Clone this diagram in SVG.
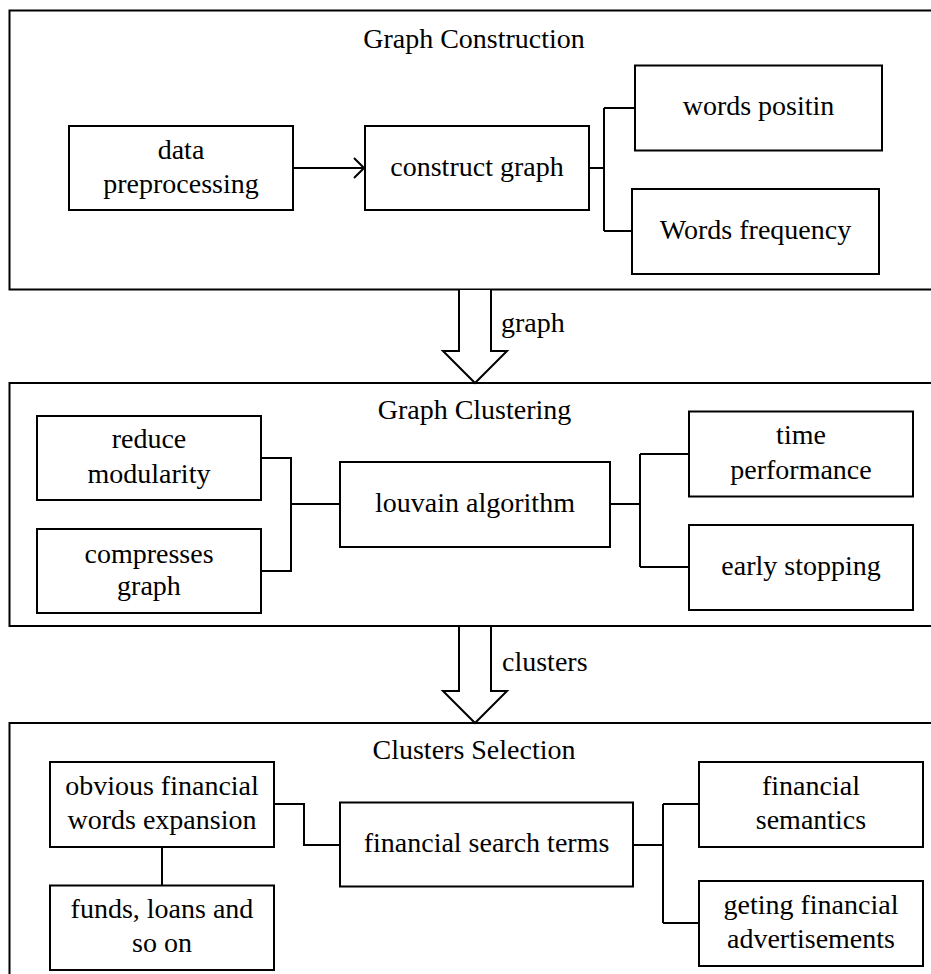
<svg xmlns="http://www.w3.org/2000/svg" width="931" height="974" viewBox="0 0 931 974">
<defs>
<style>
.panel{fill:#fff;stroke:#000;stroke-width:2}
.box{fill:#fff;stroke:#000;stroke-width:2}
.conn{fill:none;stroke:#000;stroke-width:2}
.blk{fill:#fff;stroke:#000;stroke-width:2;stroke-linejoin:miter}
text{font-family:'Liberation Serif','DejaVu Serif',serif;font-size:28px;fill:#000}
.c{text-anchor:middle}
</style>
<marker id="open" markerWidth="12" markerHeight="22" refX="11" refY="11" orient="auto" markerUnits="userSpaceOnUse">
<path d="M1,1 L11,11 L1,21" fill="none" stroke="#000" stroke-width="2"/>
</marker>
</defs>
<rect width="931" height="974" fill="#fff"/>

<g id="panel-construction">
<rect class="panel" x="9.5" y="10.5" width="930" height="279"/>
<text class="c" x="474" y="48">Graph Construction</text>
</g>
<g id="panel-clustering">
<rect class="panel" x="9.5" y="383" width="930" height="243"/>
<text class="c" x="474.5" y="419">Graph Clustering</text>
</g>
<g id="panel-selection">
<rect class="panel" x="9.5" y="723" width="930" height="270"/>
<text class="c" x="474" y="759">Clusters Selection</text>
</g>

<g id="connectors">
<line class="conn" x1="293" y1="168" x2="364" y2="168" marker-end="url(#open)"/>
<path class="conn" d="M589,168 H604 M604,108 V231 M604,108 H635 M604,231 H632"/>
<path class="conn" d="M261,458 H291 V571 H261 M291,504 H340"/>
<path class="conn" d="M610,504 H640 M640,454 V567 M640,454 H689 M640,567 H689"/>
<path class="conn" d="M162,847 V885"/>
<path class="conn" d="M274,804 H304 V845 H340"/>
<path class="conn" d="M633,845 H663 M663,804 V923 M663,804 H699 M663,923 H699"/>
<g id="arrow-graph">
<path class="blk" d="M459,290 V351 H443 L475,383 L507,351 H491 V290"/>
<text x="501" y="332">graph</text>
</g>
<g id="arrow-clusters">
<path class="blk" d="M459,627 V691 H443 L475,723 L507,691 H491 V627"/>
<text x="502" y="671">clusters</text>
</g>
</g>

<g id="data-preprocessing">
<rect class="box" x="69" y="126" width="224" height="84"/>
<text class="c" x="181" y="159">data</text>
<text class="c" x="181" y="193">preprocessing</text>
</g>
<g id="construct-graph">
<rect class="box" x="365" y="126" width="224" height="84"/>
<text class="c" x="477" y="176">construct graph</text>
</g>
<g id="words-positin">
<rect class="box" x="635" y="65.5" width="247" height="85"/>
<text class="c" x="758.5" y="115">words positin</text>
</g>
<g id="words-frequency">
<rect class="box" x="632" y="189" width="247" height="85"/>
<text class="c" x="755.5" y="239">Words frequency</text>
</g>

<g id="reduce-modularity">
<rect class="box" x="37" y="416" width="224" height="84"/>
<text class="c" x="149" y="448">reduce</text>
<text class="c" x="149" y="483">modularity</text>
</g>
<g id="compresses-graph">
<rect class="box" x="37" y="529" width="224" height="84"/>
<text class="c" x="149" y="563">compresses</text>
<text class="c" x="149" y="595">graph</text>
</g>
<g id="louvain-algorithm">
<rect class="box" x="340" y="462" width="270" height="85"/>
<text class="c" x="475" y="512">louvain algorithm</text>
</g>
<g id="time-performance">
<rect class="box" x="689" y="411.5" width="224" height="85"/>
<text class="c" x="801" y="444">time</text>
<text class="c" x="801" y="479">performance</text>
</g>
<g id="early-stopping">
<rect class="box" x="689" y="525" width="224" height="85"/>
<text class="c" x="801" y="575">early stopping</text>
</g>

<g id="obvious-financial">
<rect class="box" x="50" y="762" width="224" height="85"/>
<text class="c" x="162" y="795">obvious financial</text>
<text class="c" x="162" y="829">words expansion</text>
</g>
<g id="funds-loans">
<rect class="box" x="50" y="885.5" width="224" height="84.5"/>
<text class="c" x="162" y="918">funds, loans and</text>
<text class="c" x="162" y="952">so on</text>
</g>
<g id="financial-search-terms">
<rect class="box" x="340" y="802.5" width="293" height="84"/>
<text class="c" x="486.5" y="852">financial search terms</text>
</g>
<g id="financial-semantics">
<rect class="box" x="699" y="762" width="224" height="85"/>
<text class="c" x="811" y="795">financial</text>
<text class="c" x="811" y="829">semantics</text>
</g>
<g id="geting-financial">
<rect class="box" x="699" y="881" width="224" height="85"/>
<text class="c" x="811" y="914">geting financial</text>
<text class="c" x="811" y="948">advertisements</text>
</g>
</svg>
